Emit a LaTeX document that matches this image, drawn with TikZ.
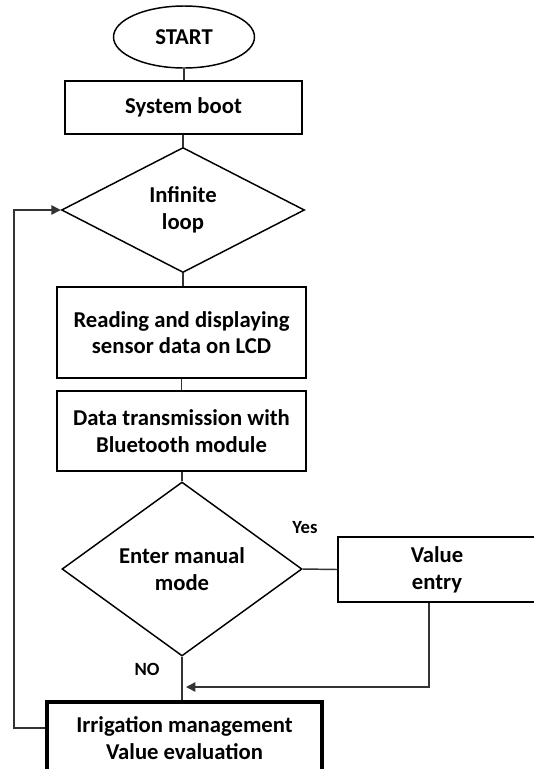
\documentclass[tikz,border=0pt]{standalone}
\usepackage{fontspec}
\setmainfont{Carlito}
\usetikzlibrary{shapes.geometric,arrows.meta}
\begin{document}
\begin{tikzpicture}[x=0.75pt,y=-0.75pt,
  txt/.style={font=\bfseries\fontsize{17}{20}\selectfont,align=center},
  box/.style={txt,draw=black,line width=1.1pt,rectangle,inner sep=0pt},
  term/.style={txt,draw=black,line width=1.1pt,ellipse,inner sep=0pt},
  dec/.style={txt,draw=black,line width=1.1pt,diamond,inner sep=0pt,shape aspect=1.6},
  conn/.style={draw=black!80,line width=1.1pt},
  arr/.style={conn,-{Triangle[length=7pt,width=7pt]}},
  lab/.style={font=\bfseries\fontsize{14}{16}\selectfont,inner sep=0pt}]
\useasboundingbox (0,0) rectangle (534,769);

\node[term,minimum width=141*0.75pt,minimum height=62*0.75pt] (start) at (184,37) {START};
\node[box,minimum width=237*0.75pt,minimum height=53*0.75pt] (boot) at (183.5,107.5) {System boot};
\node[dec,minimum width=243*0.75pt,minimum height=125*0.75pt] (d1) at (183,210) {Infinite\\loop};
\node[box,minimum width=249*0.75pt,minimum height=91*0.75pt] (read) at (181.5,332.5) {Reading and displaying\\sensor data on LCD};
\node[box,minimum width=249*0.75pt,minimum height=80*0.75pt] (bt) at (181.5,431) {Data transmission with\\Bluetooth module};
\node[dec,minimum width=240*0.75pt,minimum height=174*0.75pt] (d2) at (182,569) {Enter manual\\mode};
\node[box,minimum width=198*0.75pt,minimum height=65*0.75pt] (ve) at (437,569.5) {Value\\entry};
\node[box,line width=2.4pt,minimum width=275*0.75pt,minimum height=72*0.75pt] (irr) at (184.5,738) {Irrigation management\\Value evaluation};

\node[lab] (yes) at (305,528) {Yes};
\node[lab] (no) at (147,669) {NO};

\coordinate (loopy) at (0,728);
\coordinate (ret) at (186,687);

\draw[conn] (start) -- (start |- boot.north);
\draw[conn] (boot.south -| d1.north) -- (d1.north);
\draw[conn] (d1.south) -- (d1.south |- read.north);
\draw[conn] (read.south) -- (bt.north);
\draw[conn] (bt.south -| d2.north) -- (d2.north);
\draw[conn] (d2.east) -- (ve.west);
\draw[conn] (d2.south) -- (d2.south |- irr.north);
\draw[arr] (ve.south -| 429,0) |- (ret);
\draw[arr] (irr.west |- loopy) -- (14,728) |- (d1.west);
\end{tikzpicture}
\end{document}
